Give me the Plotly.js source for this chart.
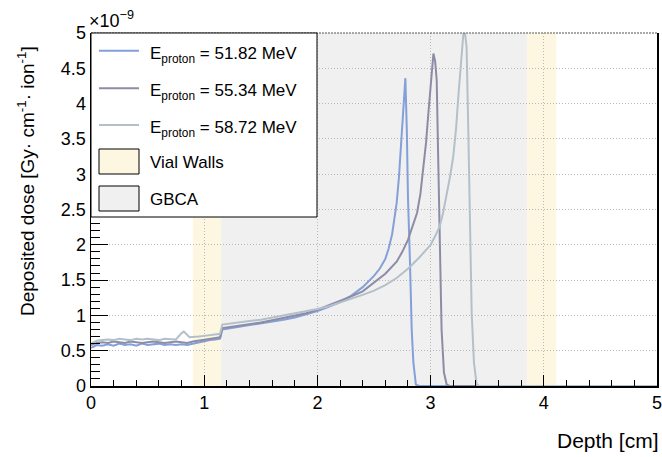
<!DOCTYPE html>
<html>
<head>
<meta charset="utf-8">
<script src="https://cdn.plot.ly/plotly-3.0.1.min.js"></script>
<style>html,body{margin:0;padding:0;background:#fff;}#chart{width:662px;height:457px;}</style>
</head>
<body>
<div id="chart"></div>
<script>
// ---- data ----
const seriesNames = ['E<sub>proton</sub> = 51.82 MeV', 'E<sub>proton</sub> = 55.34 MeV', 'E<sub>proton</sub> = 58.72 MeV'];

const depth51 = [0,0.05,0.1,0.15,0.2,0.25,0.3,0.35,0.4,0.45,0.5,0.55,0.6,0.65,0.7,0.75,0.8,0.85,0.9,
  0.95,1.0,1.05,1.1,1.14,1.16,1.2,1.3,1.4,1.5,1.6,1.7,1.8,1.9,2.0,2.1,2.2,2.3,2.4,2.5,
  2.55,2.6,2.63,2.66,2.68,2.70,2.72,2.74,2.76,2.777,2.79,2.80,2.818,2.833,2.848,2.87,2.9,3.5,4.0,4.5,5.0];
const dose51 = [0.54,0.58,0.57,0.59,0.57,0.60,0.58,0.59,0.57,0.60,0.58,0.59,0.60,0.58,0.59,0.58,0.59,0.58,0.60,
  0.62,0.63,0.65,0.66,0.67,0.80,0.81,0.83,0.86,0.88,0.91,0.94,0.97,1.01,1.06,1.12,1.19,1.28,1.40,1.56,
  1.66,1.80,1.95,2.15,2.35,2.59,2.95,3.40,3.86,4.36,3.62,2.68,1.74,0.80,0.33,0.02,0,0,0,0,0];

const depth55 = [0,0.05,0.1,0.15,0.2,0.25,0.3,0.35,0.4,0.45,0.5,0.55,0.6,0.65,0.7,0.75,0.8,0.85,0.9,
  0.95,1.0,1.05,1.1,1.14,1.16,1.2,1.3,1.4,1.5,1.6,1.7,1.8,1.9,2.0,2.1,2.2,2.3,2.4,2.5,2.6,2.7,
  2.75,2.8,2.84,2.88,2.91,2.935,2.96,2.98,3.0,3.01,3.025,3.04,3.054,3.068,3.083,3.097,3.118,3.142,3.17,3.5,4.0,4.5,5.0];
const dose55 = [0.58,0.61,0.62,0.61,0.63,0.62,0.61,0.63,0.62,0.61,0.62,0.63,0.62,0.61,0.62,0.63,0.62,0.61,0.63,
  0.64,0.65,0.66,0.68,0.69,0.82,0.83,0.85,0.88,0.90,0.93,0.96,0.99,1.03,1.08,1.14,1.20,1.27,1.34,1.46,1.59,1.76,
  1.90,2.07,2.25,2.45,2.72,3.06,3.45,3.86,4.25,4.47,4.71,4.60,4.33,3.15,1.74,0.80,0.19,0.02,0,0,0,0,0];

const depth58 = [0,0.05,0.1,0.15,0.2,0.25,0.3,0.35,0.4,0.45,0.5,0.55,0.6,0.65,0.7,0.75,
  0.8,0.82,0.87,0.9,0.95,1.0,1.05,1.1,1.14,1.16,1.2,
  1.3,1.4,1.5,1.6,1.7,1.8,1.9,2.0,2.1,2.2,2.3,2.4,2.5,2.6,2.7,2.8,2.9,3.0,
  3.04,3.08,3.11,3.14,3.17,3.2,3.225,3.245,3.26,3.275,3.29,3.30,
  3.318,3.333,3.347,3.363,3.383,3.407,3.43,3.5,4.0,4.5,5.0];
const dose58 = [0.60,0.64,0.65,0.66,0.65,0.67,0.66,0.65,0.67,0.66,0.67,0.66,0.65,0.67,0.66,0.66,
  0.75,0.77,0.69,0.69,0.70,0.71,0.72,0.73,0.74,0.87,0.88,
  0.90,0.92,0.94,0.97,0.99,1.02,1.06,1.09,1.13,1.18,1.23,1.29,1.35,1.43,1.53,1.66,1.82,2.00,
  2.12,2.26,2.45,2.68,2.95,3.25,3.65,4.10,4.45,4.80,5.0,5.05,
  4.80,3.62,2.21,1.03,0.33,0.02,0,0,0,0,0];

const vialStart = [0.90, 3.85];
const vialEnd   = [1.15, 4.11];
const gbcaStart = 1.15;
const gbcaEnd   = 3.85;
const regionNames = ['Vial Walls', 'GBCA'];

const xTicks = [0,1,2,3,4,5];
const yTicks = [0,0.5,1,1.5,2,2.5,3,3.5,4,4.5,5];
const yTickText = ['0','0.5','1','1.5','2','2.5','3','3.5','4','4.5','5'];

// ---- styling ----
const lineColors = ['#83a0d8', '#8d8ca6', '#b4c0c9'];
const regionColors = ['#fdf6e1', '#f0f0f0'];
const FONT = 'Liberation Sans, Arial, Helvetica, sans-serif';
const W = 662, H = 457, ML = 91, MR = 5, MT = 33, MB = 71;
const PW = W - ML - MR, PH = H - MT - MB;
const px2x = px => (px - ML) / PW;
const py2y = py => (H - MB - py) / PH;

const xs = [depth51, depth55, depth58];
const ys = [dose51, dose55, dose58];
const traces = xs.map((x, i) => ({
  type: 'scatter', mode: 'lines', x: x, y: ys[i], name: seriesNames[i],
  line: {color: lineColors[i], width: 2}, showlegend: false
}));

const shapes = [];
vialStart.forEach((s, i) => shapes.push({
  type: 'rect', xref: 'x', yref: 'paper', x0: s, x1: vialEnd[i], y0: 0, y1: 1,
  fillcolor: regionColors[0], line: {width: 0}, layer: 'below'
}));
shapes.push({
  type: 'rect', xref: 'x', yref: 'paper', x0: gbcaStart, x1: gbcaEnd, y0: 0, y1: 1,
  fillcolor: regionColors[1], line: {width: 0}, layer: 'below'
});
// top frame
shapes.push({type: 'line', xref: 'paper', yref: 'paper', x0: 0, x1: 1, y0: 1, y1: 1,
  line: {color: '#555', width: 1.2, dash: '2px,1px'}});

// ---- legend (drawn with shapes + annotations) ----
const annotations = [];
shapes.push({type: 'rect', xref: 'paper', yref: 'paper', x0: px2x(91), x1: px2x(317), y0: py2y(217), y1: py2y(33),
  fillcolor: '#fff', line: {color: '#000', width: 1}, layer: 'above'});
const symX0 = px2x(99), symX1 = px2x(139), textX = px2x(148);
const lineRowY = [50.7, 88.3, 125];
seriesNames.forEach((n, i) => {
  shapes.push({type: 'line', xref: 'paper', yref: 'paper', x0: symX0, x1: symX1,
    y0: py2y(lineRowY[i]), y1: py2y(lineRowY[i]), line: {color: lineColors[i], width: 2}, layer: 'above'});
  annotations.push({text: n, xref: 'paper', yref: 'paper', x: textX, y: py2y(lineRowY[i] + 4),
    xanchor: 'left', yanchor: 'middle', showarrow: false, font: {family: FONT, size: 17, color: '#000'}});
});
const boxRows = [[149, 174], [186, 211]];
regionNames.forEach((n, i) => {
  shapes.push({type: 'rect', xref: 'paper', yref: 'paper', x0: symX0, x1: symX1,
    y0: py2y(boxRows[i][1]), y1: py2y(boxRows[i][0]), fillcolor: regionColors[i],
    line: {color: '#000', width: 1}, layer: 'above'});
  annotations.push({text: n, xref: 'paper', yref: 'paper', x: textX, y: py2y((boxRows[i][0] + boxRows[i][1]) / 2 + 1),
    xanchor: 'left', yanchor: 'middle', showarrow: false, font: {family: FONT, size: 17, color: '#000'}});
});

annotations.push(
  {text: '×10<sup>−9</sup>', xref: 'paper', yref: 'paper', x: 0, y: 1, xanchor: 'left', yanchor: 'bottom',
   showarrow: false, font: {family: FONT, size: 18, color: '#000'}, xshift: -4},
  {text: 'Depth [cm]', xref: 'paper', yref: 'paper', x: 1, y: py2y(440), xanchor: 'right', yanchor: 'middle',
   showarrow: false, font: {family: FONT, size: 21, color: '#000'}, xshift: 4},
  {text: 'Deposited dose [Gy· cm<sup>-1</sup>· ion<sup>-1</sup>]', xref: 'paper', yref: 'paper',
   x: px2x(26), y: py2y(181), xanchor: 'center', yanchor: 'middle', textangle: -90,
   showarrow: false, font: {family: FONT, size: 19, color: '#000'}}
);

const gridStyle = {showgrid: true, gridcolor: '#b8b8b8', griddash: '1px,2px', gridwidth: 1, zeroline: false};
const layout = {
  width: W, height: H,
  margin: {l: ML, r: MR, t: MT, b: MB},
  paper_bgcolor: '#fff', plot_bgcolor: '#fff',
  font: {family: FONT, size: 18, color: '#000'},
  showlegend: false,
  xaxis: Object.assign({range: [0, 5], tickvals: xTicks, ticks: 'inside', ticklen: 11, tickwidth: 1, tickcolor: '#000',
    minor: {dtick: 0.2, ticks: 'inside', ticklen: 6, tickwidth: 1, tickcolor: '#000', showgrid: false},
    showline: true, linecolor: '#000', linewidth: 1.5, mirror: false, ticklabeloverflow: 'allow',
    tickfont: {family: FONT, size: 18, color: '#000'}}, gridStyle),
  yaxis: Object.assign({range: [0, 5], tickvals: yTicks, ticktext: yTickText, ticks: 'inside', ticklen: 17, tickwidth: 1, tickcolor: '#000',
    minor: {dtick: 0.1, ticks: 'inside', ticklen: 9, tickwidth: 1, tickcolor: '#000', showgrid: false},
    showline: true, linecolor: '#000', linewidth: 1.5, mirror: true, ticklabeloverflow: 'allow',
    tickfont: {family: FONT, size: 18, color: '#000'}}, gridStyle),
  shapes: shapes,
  annotations: annotations
};

Plotly.newPlot('chart', traces, layout, {staticPlot: true});
</script>
</body>
</html>
